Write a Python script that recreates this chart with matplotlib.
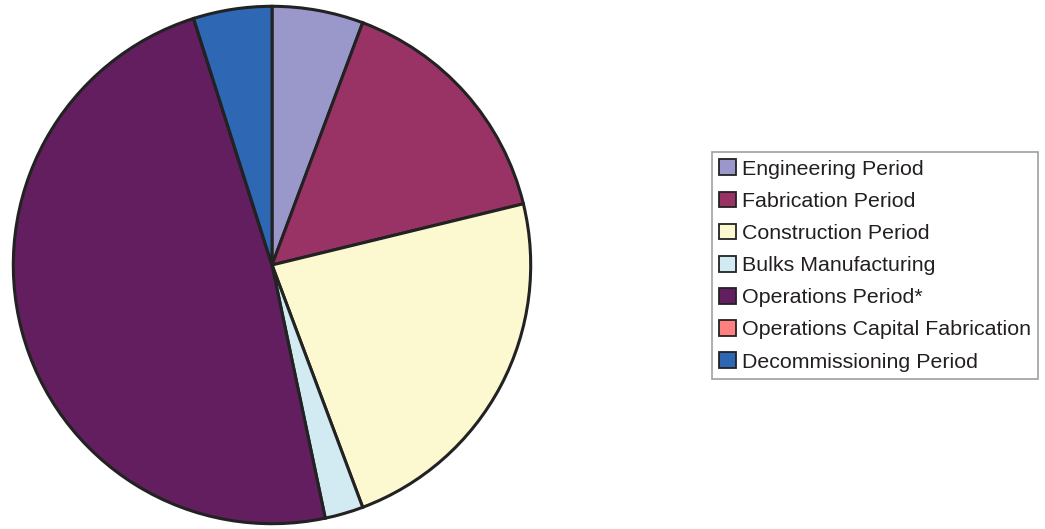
import matplotlib
matplotlib.use('Agg')
from matplotlib import pyplot as plt

# share of each period (%)
labels = ['Engineering Period', 'Fabrication Period', 'Construction Period',
          'Bulks Manufacturing', 'Operations Period*',
          'Operations Capital Fabrication', 'Decommissioning Period']
shares = [5.7, 15.5, 23.1, 2.4, 48.4, 0.0, 4.9]
colors = ['#9a97cb', '#993366', '#fcf8d0', '#d2ebf2', '#621e5e',
          '#ff8080', '#2e68b4']

plt.rcParams['font.family'] = ['Liberation Sans', 'DejaVu Sans']

W, H = 1045, 529
fig = plt.figure(figsize=(W / 100, H / 100), dpi=100)

# pie centred at (272, 265) px, radius 260 px
cx, cy, r = 272, 265, 260
ax = fig.add_axes([(cx - r) / W, (H - cy - r) / H, 2 * r / W, 2 * r / H])
wedges, _ = ax.pie(shares, colors=colors, startangle=90, counterclock=False,
                   radius=1.0,
                   wedgeprops=dict(edgecolor='#222222', linewidth=2.2))
ax.set_xlim(-1.005, 1.005)
ax.set_ylim(-1.005, 1.005)
ax.set_aspect('equal')
ax.axis('off')

leg = fig.legend(wedges, labels, loc='upper left',
                 bbox_to_anchor=(712 / W, 1 - 152 / H),
                 fontsize=15.4, frameon=True, fancybox=False,
                 handlelength=0.75, handleheight=0.75, handletextpad=0.3,
                 labelspacing=0.6, borderpad=0.35, borderaxespad=0,
                 labelcolor='#231f20')
leg.get_frame().set_edgecolor('#888888')
leg.get_frame().set_linewidth(1.2)
for h in leg.legend_handles:
    h.set_linewidth(1.3)

fig.savefig('out.png', dpi=100)
